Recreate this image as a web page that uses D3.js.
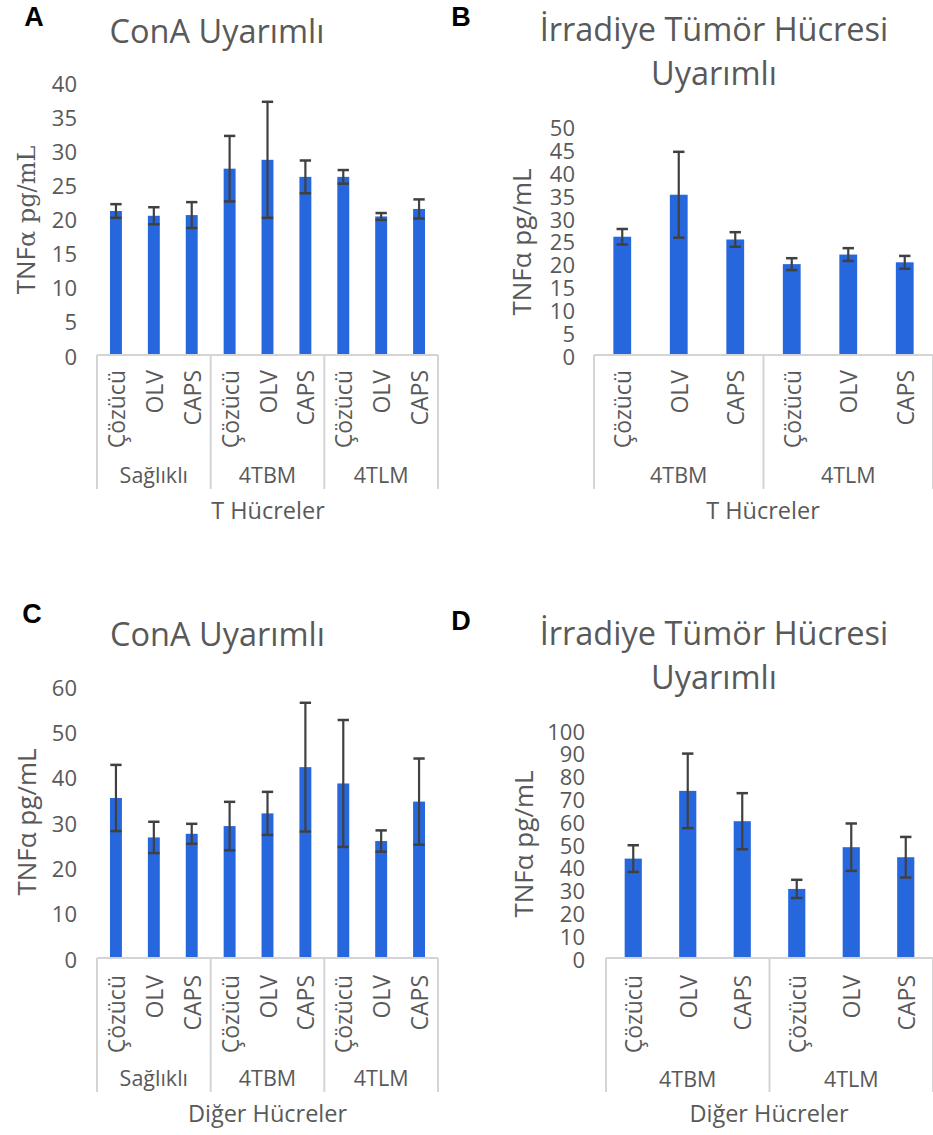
<!DOCTYPE html>
<html><head><meta charset="utf-8">
<script src="https://cdn.jsdelivr.net/npm/d3@7"></script>
<style>
html,body{margin:0;padding:0;background:#fff;}
svg{display:block;}
text{font-family:"Open Sans",sans-serif;fill:#595959;}
</style></head>
<body>
<svg id="chart" width="933" height="1135"></svg>
<script>
// ---------- data ----------
const treatments = ["Çözücü", "OLV", "CAPS"];
const groupsThree = ["Sağlıklı", "4TBM", "4TLM"];
const groupsTwo = ["4TBM", "4TLM"];

const valuesA = [21.1, 20.4, 20.5, 27.3, 28.6, 26.1, 26.1, 20.3, 21.4];
const errorsA = [1.0, 1.25, 1.9, 4.8, 8.5, 2.4, 1.0, 0.5, 1.4];
const ticksA = [0, 5, 10, 15, 20, 25, 30, 35, 40];

const valuesB = [25.9, 35.1, 25.3, 19.9, 22.0, 20.3];
const errorsB = [1.7, 9.4, 1.6, 1.3, 1.4, 1.4];
const ticksB = [0, 5, 10, 15, 20, 25, 30, 35, 40, 45, 50];

const valuesC = [35.3, 26.6, 27.4, 29.1, 31.9, 42.1, 38.5, 25.8, 34.5];
const errorsC = [7.3, 3.45, 2.2, 5.35, 4.75, 14.2, 14.0, 2.35, 9.5];
const ticksC = [0, 10, 20, 30, 40, 50, 60];

const valuesD = [43.6, 73.3, 60.0, 30.3, 48.6, 44.2];
const errorsD = [5.85, 16.35, 12.3, 4.0, 10.4, 8.9];
const ticksD = [0, 10, 20, 30, 40, 50, 60, 70, 80, 90, 100];

const titleConA = ["ConA Uyarımlı"];
const titleIrr = ["İrradiye Tümör Hücresi", "Uyarımlı"];
const axisT = "T Hücreler";
const axisOther = "Diğer Hücreler";

// ---------- drawing ----------
const svg = d3.select("#chart");
const BAR = "#2767DE", ERR = "#404040", GRID = "#d4d4d4";

function panel(o) {
  const g = svg.append("g");
  const data = [];
  o.groups.forEach((gr, gi) => treatments.forEach((t, ti) => {
    const k = gi * treatments.length + ti;
    data.push({group: gr, t, v: o.values[k], e: o.errors[k]});
  }));

  const xG = d3.scaleBand().domain(o.groups).range([o.x0, o.x1]).padding(0);
  const xT = d3.scaleBand().domain(treatments).range([0, xG.bandwidth()]).padding(0);
  const y = d3.scaleLinear().domain([0, o.ticks[o.ticks.length - 1]]).range([o.yBase, o.yTop]);
  const bw = xT.bandwidth() * 0.315;
  const cx = d => xG(d.group) + xT(d.t) + xT.bandwidth() / 2;

  // panel letter
  g.append("text").attr("x", o.letterX).attr("y", o.letterY)
    .attr("text-anchor", "middle").attr("dominant-baseline", "central")
    .style("font-family", "'Liberation Sans', Arial, sans-serif").style("font-weight", "bold")
    .style("font-size", "27px").style("fill", "#000").text(o.letter);

  // title
  o.title.forEach((line, i) => {
    g.append("text").attr("x", o.titleX).attr("y", o.titleY + i * 44)
      .attr("text-anchor", "middle").attr("dominant-baseline", "central")
      .style("font-size", "32.5px").text(line);
  });

  // y axis ticks
  const ya = d3.axisLeft(y).tickValues(o.ticks).tickSize(0).tickPadding(0).tickFormat(d3.format("d"));
  const yg = g.append("g").attr("transform", `translate(${o.tickX},0)`).call(ya);
  yg.select(".domain").remove();
  yg.selectAll("text").attr("dy", null).attr("dominant-baseline", "central")
    .style("font-size", "22px").style("font-family", "'Open Sans',sans-serif").attr("fill", "#595959");

  // y axis title
  const yt = g.append("text")
    .attr("transform", `translate(${o.yTitleX},${o.yTitleY}) rotate(-90)`)
    .attr("text-anchor", "middle").style("font-size", "26px");
  if (o.serifUnit) {
    yt.append("tspan").text("TNF");
    yt.append("tspan").style("font-family", "'DejaVu Serif','Liberation Serif',serif").style("font-size", "24px").text("α pg/mL");
  } else {
    yt.text("TNFα pg/mL");
  }

  // bars
  g.selectAll("rect.bar").data(data).enter().append("rect")
    .attr("x", d => cx(d) - bw / 2).attr("width", bw)
    .attr("y", d => y(d.v)).attr("height", d => y(0) - y(d.v))
    .attr("fill", BAR);

  // error bars
  const cap = Math.min(bw, 12) * 0.95;
  const eb = g.selectAll("g.err").data(data).enter().append("g")
    .attr("stroke", ERR).attr("stroke-width", 2.2);
  eb.append("line").attr("x1", cx).attr("x2", cx)
    .attr("y1", d => y(d.v + d.e)).attr("y2", d => y(d.v - d.e));
  eb.append("line").attr("x1", d => cx(d) - cap / 2).attr("x2", d => cx(d) + cap / 2)
    .attr("y1", d => y(d.v + d.e)).attr("y2", d => y(d.v + d.e)).attr("stroke-width", 2.5);
  eb.append("line").attr("x1", d => cx(d) - cap / 2).attr("x2", d => cx(d) + cap / 2)
    .attr("y1", d => y(d.v - d.e)).attr("y2", d => y(d.v - d.e)).attr("stroke-width", 2.5);

  // category axis frame
  g.append("line").attr("x1", o.x0).attr("x2", o.x1).attr("y1", y(0)).attr("y2", y(0))
    .attr("stroke", GRID).attr("stroke-width", 2);
  const edges = o.groups.map(gr => xG(gr)).concat([o.x1]);
  g.selectAll("line.div").data(edges).enter().append("line")
    .attr("x1", d => d).attr("x2", d => d).attr("y1", y(0)).attr("y2", o.frameBottom)
    .attr("stroke", GRID).attr("stroke-width", 2);

  // treatment labels
  g.selectAll("text.cat").data(data).enter().append("text")
    .attr("transform", d => `translate(${cx(d)},${o.catTop}) rotate(-90)`)
    .attr("text-anchor", "end").attr("dominant-baseline", "central")
    .style("font-size", "23px").text(d => d.t);

  // group labels
  g.selectAll("text.grp").data(o.groups).enter().append("text")
    .attr("x", d => xG(d) + xG.bandwidth() / 2).attr("y", o.groupY)
    .attr("text-anchor", "middle").attr("dominant-baseline", "central")
    .style("font-size", "21.5px").text(d => d);

  // axis title
  g.append("text").attr("x", o.axisX).attr("y", o.axisY)
    .attr("text-anchor", "middle").attr("dominant-baseline", "central")
    .style("font-size", "23.5px").text(o.axisTitle);
}

panel({letter: "A", letterX: 34, letterY: 17, title: titleConA, titleX: 217, titleY: 30,
  groups: groupsThree, values: valuesA, errors: errorsA, ticks: ticksA,
  x0: 97, x1: 438, yBase: 355, yTop: 82, tickX: 77, yTitleX: 35, yTitleY: 220, serifUnit: true,
  catTop: 370, groupY: 474, frameBottom: 489, axisX: 268, axisY: 510, axisTitle: axisT});

panel({letter: "B", letterX: 461, letterY: 17, title: titleIrr, titleX: 714, titleY: 28,
  groups: groupsTwo, values: valuesB, errors: errorsB, ticks: ticksB,
  x0: 594, x1: 933, yBase: 355, yTop: 126.7, tickX: 575, yTitleX: 531, yTitleY: 242, serifUnit: false,
  catTop: 370, groupY: 474, frameBottom: 489, axisX: 763, axisY: 510, axisTitle: axisT});

panel({letter: "C", letterX: 32, letterY: 614, title: titleConA, titleX: 217.5, titleY: 633,
  groups: groupsThree, values: valuesC, errors: errorsC, ticks: ticksC,
  x0: 97, x1: 438, yBase: 958, yTop: 686, tickX: 77, yTitleX: 36, yTitleY: 822, serifUnit: false,
  catTop: 975, groupY: 1077, frameBottom: 1092, axisX: 267.5, axisY: 1113, axisTitle: axisOther});

panel({letter: "D", letterX: 461, letterY: 621, title: titleIrr, titleX: 714, titleY: 632,
  groups: groupsTwo, values: valuesD, errors: errorsD, ticks: ticksD,
  x0: 606, x1: 933, yBase: 958, yTop: 730, tickX: 585, yTitleX: 533, yTitleY: 844, serifUnit: false,
  catTop: 975, groupY: 1078, frameBottom: 1092, axisX: 769, axisY: 1113, axisTitle: axisOther});
</script>
</body></html>
